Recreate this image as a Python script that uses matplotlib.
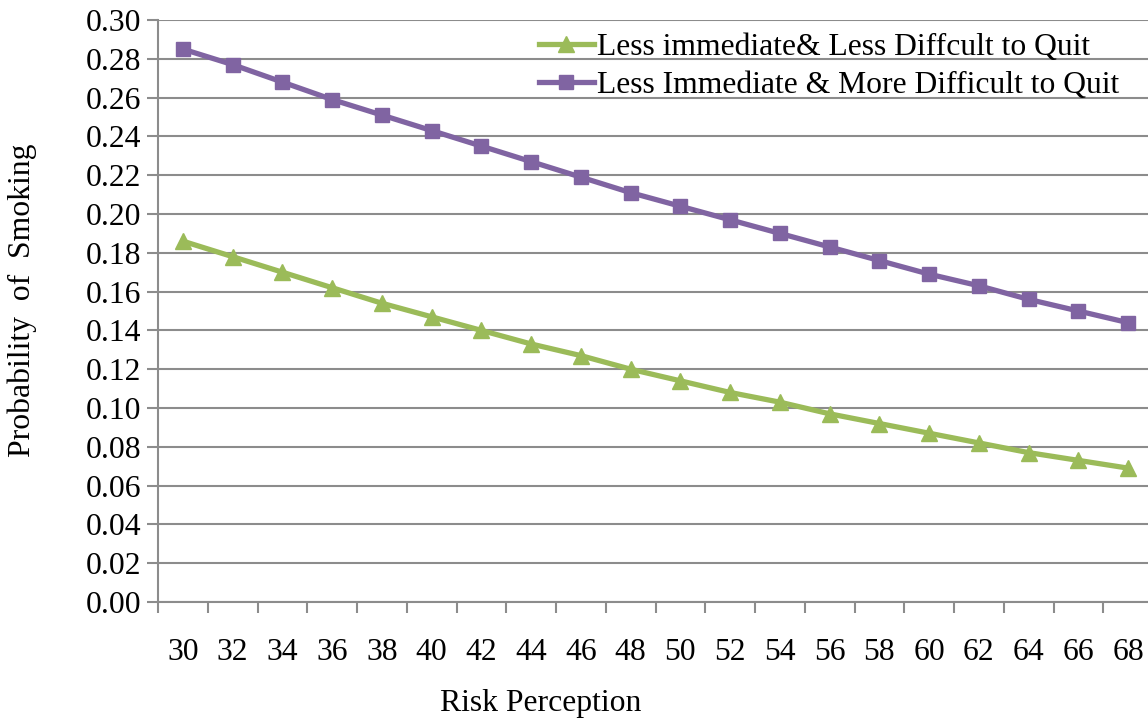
import numpy as np
import matplotlib
matplotlib.use("Agg")
import matplotlib.pyplot as plt

plt.rcParams['font.family'] = ['Liberation Serif', 'DejaVu Serif']

risk = [30, 32, 34, 36, 38, 40, 42, 44, 46, 48, 50, 52, 54, 56, 58, 60, 62, 64, 66, 68]
less_diff = [0.186, 0.178, 0.170, 0.162, 0.154, 0.147, 0.140, 0.133, 0.127, 0.120,
             0.114, 0.108, 0.103, 0.097, 0.092, 0.087, 0.082, 0.077, 0.073, 0.069]
more_diff = [0.285, 0.277, 0.268, 0.259, 0.251, 0.243, 0.235, 0.227, 0.219, 0.211,
             0.204, 0.197, 0.190, 0.183, 0.176, 0.169, 0.163, 0.156, 0.150, 0.144]
labels = ["Less immediate& Less Diffcult to Quit", "Less Immediate & More Difficult to Quit"]

W, H = 1148, 721
fs = 22.8
fig = plt.figure(figsize=(W / 100, H / 100), dpi=100)
# plot area runs past the right edge like the cropped original
ax = fig.add_axes([158 / W, 1 - 602 / H, (1153 - 158) / W, (602 - 20) / H])

xs = np.arange(len(risk))
grid_c = "#8c8c8c"
ax.plot(xs, less_diff, color="#9BBB59", lw=3.8, marker="^", ms=12, label=labels[0])
ax.plot(xs, more_diff, color="#8064A2", lw=3.8, marker="s", ms=10.5, label=labels[1])

ax.set_xlim(-0.5, len(risk) - 0.5)
ax.set_ylim(0, 0.30)
ax.set_yticks(np.arange(0, 0.301, 0.02))
ax.set_yticklabels([f"{v:.2f}" for v in np.arange(0, 0.301, 0.02)])
ax.yaxis.grid(True, color=grid_c, lw=1.5)
ax.set_axisbelow(True)

ax.set_xticks(xs)
ax.set_xticklabels([str(r) for r in risk])
ax.set_xticks(np.arange(-0.5, len(risk), 1), minor=True)
ax.tick_params(axis="x", which="major", length=0, pad=26, labelsize=fs)
ax.tick_params(axis="x", which="minor", length=8, width=1.5, color=grid_c, direction="out")
ax.tick_params(axis="y", length=8, width=1.5, color=grid_c, labelsize=fs, pad=4)

for s in ["top", "right"]:
    ax.spines[s].set_visible(False)
for s in ["left", "bottom"]:
    ax.spines[s].set_color(grid_c)
    ax.spines[s].set_linewidth(1.5)

fig.text(541 / W, 1 - 703 / H, "Risk Perception", fontsize=fs, ha="center", va="center")
fig.text(22 / W, 1 - 300 / H, "Probability  of  Smoking", fontsize=fs, ha="center",
         va="center", rotation=90)

ax.legend(loc="upper left", bbox_to_anchor=((526 - 158) / 995, 1.0), frameon=False,
          fontsize=fs, handlelength=1.75, handletextpad=0.1, labelspacing=0.3,
          borderaxespad=0)

fig.savefig("out.png", dpi=100)
